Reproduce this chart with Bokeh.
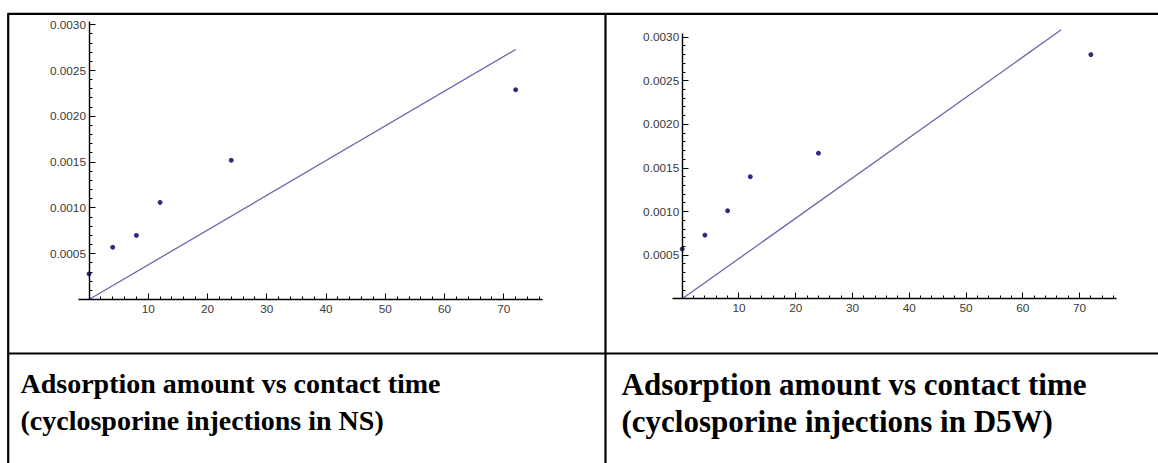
from bokeh.plotting import figure
from bokeh.models import Range1d, LinearAxis, FixedTicker, PrintfTickFormatter
from bokeh.core.properties import value
from bokeh.embed import file_html
from bokeh.resources import INLINE

# Contact time (h) and adsorbed amount for the two infusion vehicles
time_ns = [0, 4, 8, 12, 24, 72]
amount_ns = [0.00028, 0.00057, 0.00070, 0.00106, 0.00152, 0.00229]
time_d5w = [0, 4, 8, 12, 24, 72]
amount_d5w = [0.00057, 0.00073, 0.00101, 0.00140, 0.00167, 0.00280]

# Fitted adsorption rate (line through the origin)
slope_ns = 3.79e-5
slope_d5w = 4.62e-5

x_ticks = [10, 20, 30, 40, 50, 60, 70]
x_minor = list(range(2, 77, 2))
y_ticks = [0.0005, 0.0010, 0.0015, 0.0020, 0.0025, 0.0030]
y_minor = [round(0.0001 * k, 4) for k in range(1, 31)]

captions_ns = ["Adsorption amount vs contact time", "(cyclosporine injections in NS)"]
captions_d5w = ["Adsorption amount vs contact time", "(cyclosporine injections in D5W)"]

W, H = 1158, 463
POINT_COLOR = "#2b2b80"
LINE_COLOR = "#6868b0"
TICK_COLOR = "#3a3a3a"

p = figure(width=W, height=H, x_range=Range1d(0, W), y_range=Range1d(H, 0),
           x_axis_type=None, y_axis_type=None, toolbar_location=None,
           output_backend="svg", min_border=0, outline_line_color=None)
p.grid.visible = False
p.background_fill_color = "white"
p.border_fill_color = "white"

# table rules
p.segment(x0=[7, 7.7, 605, 7], y0=[13.3, 13, 13, 353],
          x1=[W, 7.7, 605, W], y1=[13.3, H, H, 353],
          line_color="black", line_width=2.2)


def panel(name, ox, oy, sx, sy, xbounds, ytop, yclip, xs, ys, slope):
    """Place one Mathematica-style plot whose origin sits at pixel (ox, oy)."""
    xr, yr = "x_" + name, "y_" + name
    p.extra_x_ranges[xr] = Range1d(-ox / sx, (W - ox) / sx)
    p.extra_y_ranges[yr] = Range1d(-(H - oy) / sy, oy / sy)

    x_end = min(max(xs), yclip / slope)
    p.line([0, x_end], [0, slope * x_end], x_range_name=xr, y_range_name=yr,
           line_color=LINE_COLOR, line_width=1.3)
    p.scatter(xs, ys, x_range_name=xr, y_range_name=yr, size=4,
              fill_color=POINT_COLOR, line_color=POINT_COLOR)

    common = dict(x_range_name=xr, y_range_name=yr, fixed_location=0,
                  axis_line_color="black", axis_line_width=1.4,
                  major_tick_line_color="black", minor_tick_line_color="black",
                  major_tick_out=0, minor_tick_out=0,
                  major_label_text_font="Liberation Sans",
                  major_label_text_font_size="11.8px",
                  major_label_text_color=TICK_COLOR)
    xa = LinearAxis(bounds=xbounds, ticker=FixedTicker(ticks=x_ticks, minor_ticks=x_minor),
                    formatter=PrintfTickFormatter(format="%d"),
                    major_tick_in=6, minor_tick_in=3, major_label_standoff=5, **common)
    ya = LinearAxis(bounds=(0, ytop), ticker=FixedTicker(ticks=y_ticks, minor_ticks=y_minor),
                    formatter=PrintfTickFormatter(format="%.4f"),
                    major_tick_in=6, minor_tick_in=3, major_label_standoff=3, **common)
    p.add_layout(xa, "below")
    p.add_layout(ya, "left")


panel("ns", 88.5, 299.0, 5.926, 91600.0, (-1.77, 76.5), 0.003035, 0.00304,
      time_ns, amount_ns, slope_ns)
panel("d5w", 681.7, 298.3, 5.676, 87200.0, (-1.76, 76.5), 0.00304, 0.003085,
      time_d5w, amount_d5w, slope_d5w)

# cell captions
cap_font = dict(text_font=value("Liberation Serif"), text_font_style="bold",
                text_color="black", text_baseline="alphabetic", text_align="left")
p.text(x=[20, 20], y=[383, 420], text=captions_ns, text_font_size="28px", **cap_font)
p.text(x=[621, 621], y=[384, 421], text=captions_d5w, text_font_size="31px", **cap_font)

open("out.html", "w").write(file_html(p, INLINE))
